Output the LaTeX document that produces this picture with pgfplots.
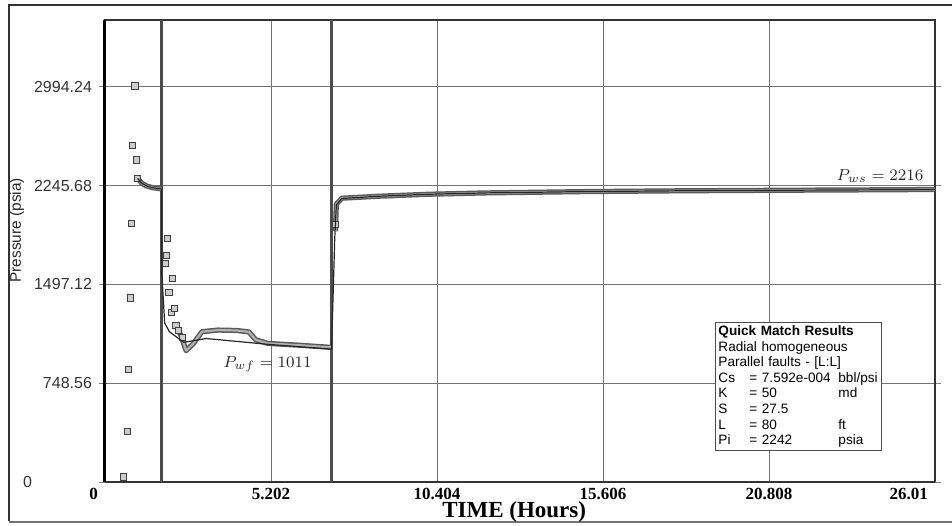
\documentclass[border=0pt]{standalone}
\usepackage{pgfplots}
\pgfplotsset{compat=1.18}
\usepackage{fontspec}
\setmainfont{Liberation Sans}
\newfontfamily\timesfont{Liberation Serif}
\begin{document}
\begin{tikzpicture}[x=1pt,y=1pt]
\useasboundingbox (0,0) rectangle (476,262.5);
\draw[black!80, line width=0.8pt] (4.5,2) -- (4.5,260) -- (476,260);
\draw[black!55, line width=1.2pt] (4.5,1.6) -- (476,1.6);
\begin{axis}[
  at={(52.5pt,21.5pt)}, anchor=south west,
  width=415pt, height=231pt, scale only axis,
  xmin=0, xmax=26.01, ymin=0, ymax=3500,
  clip mode=individual,
  xtick={5.202,10.404,15.606,20.808},
  xticklabels={5.202,10.404,15.606,20.808},
  extra x ticks={0,26.01},
  extra x tick labels={0,26.01},
  extra x tick style={grid=none, xticklabel style={anchor=north east}},
  ytick={748.56,1497.12,2245.68,2994.24},
  yticklabels={748.56,1497.12,2245.68,2994.24},
  extra y ticks={0}, extra y tick labels={0},
  extra y tick style={grid=none, yticklabel style={xshift=-30pt}},
  grid=major, major grid style={black!55, line width=0.35pt},
  xtick style={draw=none},
  ytick style={black!50, line width=0.4pt},
  tick align=outside, major tick length=3pt,
  xticklabel style={font=\timesfont\bfseries\fontsize{8.5}{9}\selectfont, yshift=3.5pt},
  yticklabel style={font=\fontsize{8}{9}\selectfont, text=black!80},
  axis line style={black!80, line width=0.6pt},
  xlabel={TIME (Hours)},
  xlabel style={font=\timesfont\bfseries\fontsize{11.5}{12}\selectfont, at={(rel axis cs:0.493,-0.064)}, anchor=center},
  ylabel={Pressure (psia)},
  ylabel style={font=\fontsize{7.7}{9}\selectfont, text=black!85, at={(rel axis cs:-0.106,0.545)}, anchor=center},
]
% hand-drawn vertical markers
\addplot[black!70, line width=1.4pt] coordinates {(1.78,0) (1.78,3500)};
\addplot[black!70, line width=1.4pt] coordinates {(7.10,0) (7.10,3500)};
% measured data (dense part, thick band)
\addplot[draw=black!65, line width=2.6pt, line join=round, postaction={draw=black!30, line width=1.1pt}] coordinates {(1.02,2301) (1.15,2264) (1.30,2243) (1.50,2229) (1.71,2223) (1.78,2220)};
\addplot[draw=black!65, line width=2.6pt, line join=round, postaction={draw=black!30, line width=1.1pt}] coordinates {(2.22,1185) (2.38,1110) (2.54,995) (2.76,1046) (3.04,1139) (3.54,1151) (4.13,1148) (4.51,1137) (4.72,1078) (5.10,1050) (6.10,1036) (7.08,1020)};
\addplot[draw=black!65, line width=2.6pt, line join=round, postaction={draw=black!30, line width=1.1pt}] coordinates {(7.22,1900) (7.25,2105) (7.42,2150) (8.58,2165) (10.14,2180) (11.9,2190) (15,2200) (18,2206) (21,2210) (24.6,2214) (26.01,2216)};
% measured data (sparse points)
\addplot[only marks, mark=square*, mark size=1.6pt, mark options={draw=black!75, fill=black!20, line width=0.5pt}] coordinates {
(0.58,38) (0.71,381) (0.74,853) (0.79,1394) (0.83,1957) (0.87,2551) (0.94,3000) (0.98,2438) (1.02,2301)
(1.89,1654) (1.92,1715) (1.96,1845) (2.01,1435) (2.09,1283) (2.11,1542) (2.17,1314) (2.22,1185) (2.31,1148) (2.43,1096) (7.22,1950)};
% model
\addplot[black!85, line width=0.6pt] coordinates {
(1.02,2301) (1.15,2264) (1.30,2243) (1.50,2229) (1.71,2223) (1.78,2220)
(1.78,1585) (1.87,1205) (2.02,1138) (2.47,1058) (3.17,1087) (5.10,1043) (7.10,1007)
(7.20,1850) (7.25,2100) (7.42,2148) (8.58,2165) (10.14,2180) (11.9,2190) (15,2200) (18,2206) (21,2210) (24.6,2214) (26.01,2216)};
\node[text=black!85, font=\fontsize{8}{9}\selectfont] at (rel axis cs:0.196,0.255) {$P_{wf} = 1011$};
\node[text=black!85, font=\fontsize{8}{9}\selectfont] at (rel axis cs:0.934,0.662) {$P_{ws} = 2216$};
\node[draw=black!70, fill=white, anchor=north west, inner xsep=1.5pt, inner ysep=1.5pt, text width=80pt, align=left, font=\fontsize{6.8}{7.8}\selectfont] at (rel axis cs:0.735,0.346) {\textbf{Quick Match Results}\\ Radial homogeneous\\ Parallel faults - [L:L]\\ \makebox[15.5pt][l]{Cs}\makebox[44.5pt][l]{= 7.592e-004}bbl/psi\\ \makebox[15.5pt][l]{K}\makebox[44.5pt][l]{= 50}md\\ \makebox[15.5pt][l]{S}\makebox[44.5pt][l]{= 27.5}\\ \makebox[15.5pt][l]{L}\makebox[44.5pt][l]{= 80}ft\\ \makebox[15.5pt][l]{Pi}\makebox[44.5pt][l]{= 2242}psia};
\draw[black, line width=1.5pt] (rel axis cs:0,0) -- (rel axis cs:0,1);
\end{axis}
\end{tikzpicture}
\end{document}
